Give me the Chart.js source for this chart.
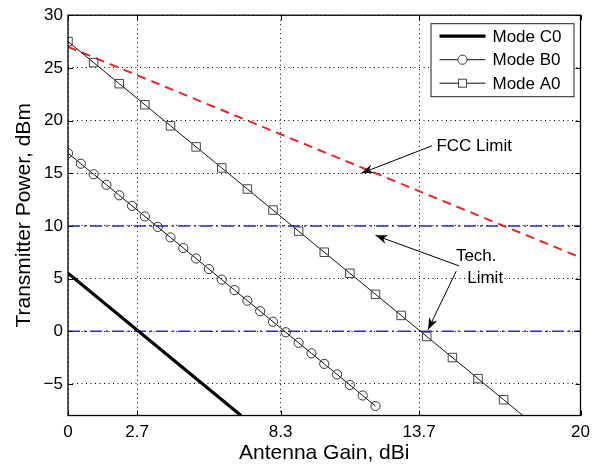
<!DOCTYPE html>
<html><head><meta charset="utf-8">
<script src="https://cdn.jsdelivr.net/npm/chart.js@4.4.1/dist/chart.umd.min.js"></script>
<style>html,body{margin:0;padding:0;background:#fff}#wrap{width:602px;height:468px}</style>
</head><body><div id="wrap"><canvas id="c" width="602" height="468"></canvas></div>
<script>
// ---- data ----
const xTicks = [0, 2.7, 8.3, 13.7, 20];
const yTicks = [-5, 0, 5, 10, 15, 20, 25, 30];
const c0X = [0, 6.75];
const c0Y = [5.5, -8];
const b0X = [0, 0.5, 1, 1.5, 2, 2.5, 3, 3.5, 4, 4.5, 5, 5.5, 6, 6.5, 7, 7.5, 8, 8.5, 9, 9.5, 10, 10.5, 11, 11.5, 12];
const b0Y = [16.9, 15.9, 14.9, 13.9, 12.9, 11.9, 10.9, 9.9, 8.9, 7.9, 6.9, 5.9, 4.9, 3.9, 2.9, 1.9, 0.9, -0.1, -1.1, -2.1, -3.1, -4.1, -5.1, -6.1, -7.1];
const a0X = [0, 1, 2, 3, 4, 5, 6, 7, 8, 9, 10, 11, 12, 13, 14, 15, 16, 17, 17.75];
const a0Y = [27.5, 25.5, 23.5, 21.5, 19.5, 17.5, 15.5, 13.5, 11.5, 9.5, 7.5, 5.5, 3.5, 1.5, -0.5, -2.5, -4.5, -6.5, -8];
const fccX = [0, 20];
const fccY = [27, 7];
const techLevels = [10, 0];
const seriesNames = ['Mode C0', 'Mode B0', 'Mode A0'];
// annotations in data coordinates
const fccLabel = {text: 'FCC Limit', x: 15.85, y: 17.6};
const fccArrow = {x1: 14.2, y1: 17.6, x2: 11.45, y2: 15.0};
const techLabel = [{text: 'Tech.', x: 15.93, y: 7.1}, {text: 'Limit', x: 16.28, y: 5.0}];
const techArrows = [{x1: 15.26, y1: 6.2, x2: 12.0, y2: 9.1}, {x1: 15.15, y1: 5.7, x2: 14.05, y2: 0.15}];

const zip = (xs, ys) => xs.map((x, i) => ({x, y: ys[i]}));
const FONT = "'Liberation Sans', Arial, sans-serif";

const datasets = [
  {label: seriesNames[0], data: zip(c0X, c0Y), borderColor: '#000', borderWidth: 3.2, pointRadius: 0, showLine: true},
  {label: seriesNames[1], data: zip(b0X, b0Y), borderColor: '#111', borderWidth: 1, showLine: true,
   pointStyle: 'circle', pointRadius: 4.6, pointBorderColor: '#333', pointBackgroundColor: 'rgba(0,0,0,0)', pointBorderWidth: 1},
  {label: seriesNames[2], data: zip(a0X, a0Y), borderColor: '#111', borderWidth: 1, showLine: true,
   pointStyle: 'rect', pointRadius: a0X.map((v, i) => i === a0X.length - 1 ? 0 : 6), pointBorderColor: '#444', pointBackgroundColor: 'rgba(0,0,0,0)', pointBorderWidth: 1},
  {label: 'FCC', data: zip(fccX, fccY), borderColor: '#e8262a', borderWidth: 2, borderDash: [9, 6], pointRadius: 0, showLine: true},
  ...techLevels.map(v => ({label: 'Tech', data: [{x: 0, y: v}, {x: 20, y: v}], borderColor: '#2a2ad4', borderWidth: 1.5, borderDash: [12, 4, 2, 4], pointRadius: 0, showLine: true}))
];

function arrow(ctx, x1, y1, x2, y2) {
  ctx.beginPath(); ctx.moveTo(x1, y1); ctx.lineTo(x2, y2); ctx.stroke();
  const a = Math.atan2(y2 - y1, x2 - x1), L = 12, W = 4.5;
  const bx = x2 - L * Math.cos(a), by = y2 - L * Math.sin(a);
  const nx = -Math.sin(a), ny = Math.cos(a);
  const mx = x2 - 0.7 * L * Math.cos(a), my = y2 - 0.7 * L * Math.sin(a);
  ctx.beginPath(); ctx.moveTo(x2, y2); ctx.lineTo(bx + nx * W, by + ny * W); ctx.lineTo(mx, my); ctx.lineTo(bx - nx * W, by - ny * W); ctx.closePath(); ctx.fill();
}

const decor = {
  id: 'decor',
  afterDraw(chart) {
    const {ctx, chartArea: ca, scales: {x, y}} = chart;
    ctx.save();
    ctx.strokeStyle = '#000'; ctx.lineWidth = 1.3; ctx.setLineDash([]);
    ctx.strokeRect(ca.left, ca.top, ca.right - ca.left, ca.bottom - ca.top);
    ctx.lineWidth = 1; const t = 5;
    ctx.beginPath();
    xTicks.forEach(v => { const px = Math.round(x.getPixelForValue(v)) + 0.5; ctx.moveTo(px, ca.bottom); ctx.lineTo(px, ca.bottom - t); ctx.moveTo(px, ca.top); ctx.lineTo(px, ca.top + t); });
    yTicks.forEach(v => { const py = Math.round(y.getPixelForValue(v)) + 0.5; ctx.moveTo(ca.left, py); ctx.lineTo(ca.left + t, py); ctx.moveTo(ca.right, py); ctx.lineTo(ca.right - t, py); });
    ctx.stroke();
    // annotations
    ctx.fillStyle = '#000'; ctx.strokeStyle = '#000'; ctx.lineWidth = 1;
    ctx.font = '17px ' + FONT; ctx.textAlign = 'center'; ctx.textBaseline = 'middle';
    ctx.fillText(fccLabel.text, x.getPixelForValue(fccLabel.x), y.getPixelForValue(fccLabel.y));
    techLabel.forEach(l => ctx.fillText(l.text, x.getPixelForValue(l.x), y.getPixelForValue(l.y)));
    [fccArrow, ...techArrows].forEach(a => arrow(ctx, x.getPixelForValue(a.x1), y.getPixelForValue(a.y1), x.getPixelForValue(a.x2), y.getPixelForValue(a.y2)));
    // legend
    const lx = ca.right - 150, ly = ca.top + 8, lw = 143, lh = 73;
    ctx.fillStyle = '#fff'; ctx.fillRect(lx, ly, lw, lh);
    ctx.strokeStyle = '#222'; ctx.lineWidth = 1; ctx.strokeRect(lx + 0.5, ly + 0.5, lw, lh);
    ctx.textAlign = 'left'; ctx.textBaseline = 'middle'; ctx.font = '17px ' + FONT;
    [0, 1, 2].forEach(i => {
      const ds = chart.data.datasets[i];
      const yy = ly + 13 + i * 23.5;
      ctx.strokeStyle = ds.borderColor; ctx.lineWidth = ds.borderWidth;
      ctx.beginPath(); ctx.moveTo(lx + 9, yy); ctx.lineTo(lx + 55, yy); ctx.stroke();
      if (i > 0) {
        ctx.lineWidth = 1; ctx.strokeStyle = ds.pointBorderColor;
        if (i === 1) { ctx.fillStyle = '#fff'; ctx.beginPath(); ctx.arc(lx + 32, yy, 4.6, 0, Math.PI * 2); ctx.fill(); ctx.stroke(); }
        else { ctx.fillStyle = '#fff'; ctx.fillRect(lx + 28, yy - 4, 8, 8); ctx.strokeRect(lx + 28, yy - 4, 8, 8); }
      }
      ctx.fillStyle = '#000';
      ctx.fillText(ds.label, lx + 62, yy + 1);
    });
    ctx.restore();
  }
};

new Chart(document.getElementById('c'), {
  type: 'scatter',
  data: {datasets},
  options: {
    responsive: false, animation: false, devicePixelRatio: 1,
    layout: {padding: {left: 0, right: 21.5, top: 12, bottom: 0}},
    plugins: {legend: {display: false}, tooltip: {enabled: false}},
    scales: {
      x: {
        type: 'linear', min: 0, max: 20,
        afterBuildTicks: s => { s.ticks = xTicks.map(v => ({value: v})); },
        afterFit: s => { s.height = 52.5; },
        grid: {color: '#000', lineWidth: 1, drawTicks: false},
        border: {display: false, dash: [1, 3.5]},
        ticks: {color: '#000', font: {family: FONT, size: 17}, padding: 7, maxRotation: 0, autoSkip: false, callback: v => String(v)},
        title: {display: true, text: 'Antenna Gain, dBi', color: '#000', font: {family: FONT, size: 21}, padding: {top: 0, bottom: 2}}
      },
      y: {
        type: 'linear', min: -8, max: 30,
        afterBuildTicks: s => { s.ticks = yTicks.map(v => ({value: v})); },
        afterFit: s => { s.width = 68; },
        grid: {color: '#000', lineWidth: 1, drawTicks: false},
        border: {display: false, dash: [1, 3.5]},
        ticks: {color: '#000', font: {family: FONT, size: 17}, padding: 5, autoSkip: false, callback: v => v < 0 ? '\u2212' + Math.abs(v) : String(v)},
        title: {display: true, text: 'Transmitter Power, dBm', color: '#000', font: {family: FONT, size: 21}, padding: {top: 12, bottom: 0}}
      }
    }
  },
  plugins: [decor]
});
</script></body></html>
